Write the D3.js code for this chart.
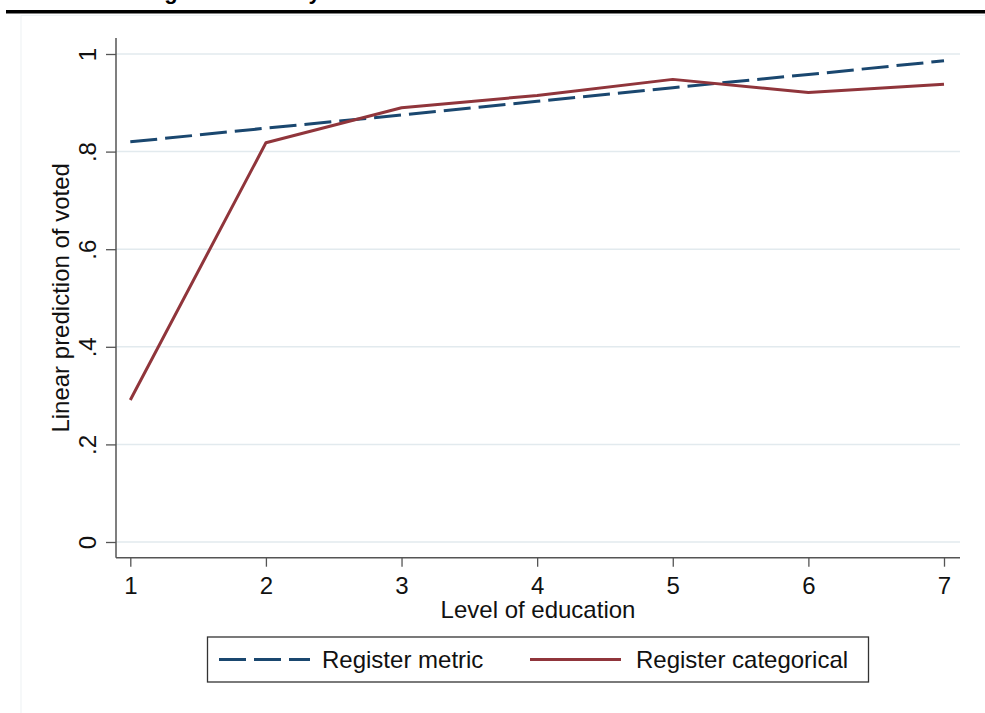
<!DOCTYPE html>
<html><head><meta charset="utf-8">
<script src="https://cdn.jsdelivr.net/npm/d3@7"></script>
<style>html,body{margin:0;padding:0;background:#fff}svg{display:block}</style>
</head><body>
<script>
const educationLevels = [1, 2, 3, 4, 5, 6, 7];
const registerMetric = [0.820, 0.848, 0.875, 0.903, 0.931, 0.958, 0.986];
const registerCategorical = [0.291, 0.818, 0.890, 0.915, 0.948, 0.921, 0.938];
const yTickValues = [0, 0.2, 0.4, 0.6, 0.8, 1];
const yTickLabels = ["0", ".2", ".4", ".6", ".8", "1"];
const seriesNames = ["Register metric", "Register categorical"];
const xTitle = "Level of education";
const yTitle = "Linear prediction of voted";

const W = 985, H = 713;
const font = "'Liberation Sans', Arial, sans-serif";
const blue = "#1a476f", red = "#90353b";

const svg = d3.select("body").append("svg").attr("width", W).attr("height", H)
  .style("font-family", font);

// remnant of a title cut off above the picture (only descenders visible) + top rule
svg.append("text")
  .attr("x", 111).attr("y", -1).attr("font-weight", "bold").attr("font-size", 22)
  .text("Voting");
svg.append("text")
  .attr("x", 295).attr("y", -1).attr("font-weight", "bold").attr("font-size", 22)
  .text("by");
svg.append("rect").attr("x", 6).attr("y", 10).attr("width", W - 6).attr("height", 3.5).attr("fill", "#000");

// faint outer frame
svg.append("rect").attr("x", 21).attr("y", 15.5).attr("width", W - 21 + 5).attr("height", H)
  .attr("fill", "none").attr("stroke", "#edf2f4").attr("stroke-width", 1);

const x = d3.scaleLinear().domain([1, 7]).range([130.3, 944]);
const y = d3.scaleLinear().domain([0, 1]).range([542, 54]);
const plotL = 116, plotR = 960, plotT = 38, plotB = 557.7;

// gridlines
svg.append("g").selectAll("line").data(yTickValues).join("line")
  .attr("x1", plotL).attr("x2", plotR)
  .attr("y1", d => y(d)).attr("y2", d => y(d))
  .attr("stroke", "#e2eaee").attr("stroke-width", 1.5);

// y axis
const yAxis = d3.axisLeft(y).tickValues(yTickValues).tickSize(10).tickPadding(0)
  .tickFormat((d, i) => yTickLabels[i]);
const gy = svg.append("g").attr("transform", `translate(${plotL},0)`).call(yAxis);
gy.select(".domain").remove();
gy.selectAll(".tick line").attr("stroke", "#555").attr("stroke-width", 1.3);
gy.selectAll(".tick text").attr("font-size", 24).attr("fill", "#111")
  .attr("text-anchor", "middle").attr("x", null).attr("dy", null)
  .attr("transform", "translate(-20,0) rotate(-90)");
svg.append("line").attr("x1", plotL).attr("x2", plotL).attr("y1", plotT).attr("y2", plotB)
  .attr("stroke", "#555").attr("stroke-width", 1.5);

// x axis
const xAxis = d3.axisBottom(x).tickValues(educationLevels).tickSize(9).tickPadding(0)
  .tickFormat(d3.format("d"));
const gx = svg.append("g").attr("transform", `translate(0,${plotB})`).call(xAxis);
gx.select(".domain").remove();
gx.selectAll(".tick line").attr("stroke", "#555").attr("stroke-width", 1.3);
gx.selectAll(".tick text").attr("font-size", 24).attr("fill", "#111")
  .attr("y", 36).attr("dy", null);
svg.append("line").attr("x1", plotL).attr("x2", plotR).attr("y1", plotB).attr("y2", plotB)
  .attr("stroke", "#555").attr("stroke-width", 1.5);

// titles
svg.append("text").attr("x", (plotL + plotR) / 2).attr("y", 618)
  .attr("text-anchor", "middle").attr("font-size", 24).attr("fill", "#111").text(xTitle);
svg.append("text").attr("transform", `translate(69,${(plotT + plotB) / 2}) rotate(-90)`)
  .attr("text-anchor", "middle").attr("font-size", 24).attr("fill", "#111").text(yTitle);

// lines
const line = d3.line().x((d, i) => x(educationLevels[i])).y(d => y(d));
svg.append("path").datum(registerMetric).attr("d", line)
  .attr("fill", "none").attr("stroke", blue).attr("stroke-width", 3)
  .attr("stroke-dasharray", "27,8");
svg.append("path").datum(registerCategorical).attr("d", line)
  .attr("fill", "none").attr("stroke", red).attr("stroke-width", 3)
  .attr("stroke-linejoin", "round");

// legend
const lg = svg.append("g");
lg.append("rect").attr("x", 207.5).attr("y", 637).attr("width", 661).attr("height", 45)
  .attr("fill", "#fff").attr("stroke", "#333").attr("stroke-width", 1.3);
const ly = 659.5;
lg.append("line").attr("x1", 219).attr("x2", 310).attr("y1", ly).attr("y2", ly)
  .attr("stroke", blue).attr("stroke-width", 3).attr("stroke-dasharray", "27,8");
lg.append("text").attr("x", 322).attr("y", 668).attr("font-size", 24).attr("fill", "#111").text(seriesNames[0]);
lg.append("line").attr("x1", 530).attr("x2", 621).attr("y1", ly).attr("y2", ly)
  .attr("stroke", red).attr("stroke-width", 3);
lg.append("text").attr("x", 636).attr("y", 668).attr("font-size", 24).attr("fill", "#111").text(seriesNames[1]);
</script>
</body></html>
